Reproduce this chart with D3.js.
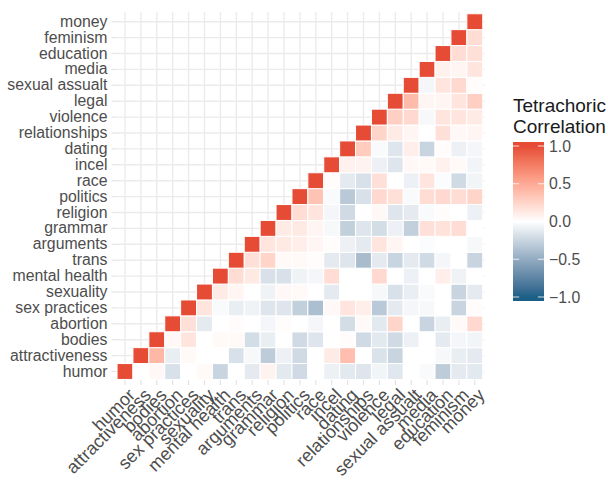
<!DOCTYPE html>
<html>
<head>
<meta charset="utf-8">
<script src="https://cdn.jsdelivr.net/npm/d3@7"></script>
<style>
  html, body { margin: 0; padding: 0; background: #fff; }
  svg { display: block; font-family: "Liberation Sans", Arial, Helvetica, sans-serif; }
</style>
</head>
<body>
<svg id="chart" width="608" height="484"></svg>
<script>
// Topics, bottom-to-top on the y axis and left-to-right on the x axis
const categories = ["humor", "attractiveness", "bodies", "abortion", "sex practices", "sexuality",
  "mental health", "trans", "arguments", "grammar", "religion", "politics", "race", "incel",
  "dating", "relationships", "violence", "legal", "sexual assualt", "media", "education",
  "feminism", "money"];

// Tetrachoric correlation of each topic with every topic listed after it
const humorRow = [0.00, 0.04, -0.18, 0.00, 0.03, -0.25, 0.00, -0.12, 0.07, -0.13, -0.22, 0.00, -0.08, -0.13, -0.15, -0.06, -0.14, 0.00, -0.03, -0.30, -0.12, -0.13];
const attractivenessRow = [0.42, -0.10, 0.03, 0.00, 0.00, -0.18, -0.04, -0.30, -0.08, -0.22, 0.00, 0.12, 0.38, 0.00, -0.17, -0.25, 0.00, 0.00, -0.04, -0.10, -0.12];
const bodiesRow = [0.04, 0.15, 0.00, 0.03, 0.03, -0.20, -0.10, 0.00, -0.22, -0.15, 0.00, 0.02, -0.22, -0.13, -0.22, -0.08, 0.00, -0.12, -0.05, -0.06];
const abortionRow = [0.18, -0.12, 0.00, 0.02, 0.00, -0.05, 0.02, 0.00, -0.05, 0.00, -0.20, 0.03, -0.13, 0.25, 0.00, -0.25, -0.10, 0.03, 0.22];
const sexPracticesRow = [0.15, -0.03, -0.10, -0.07, -0.15, -0.15, -0.28, -0.38, 0.04, 0.15, 0.10, -0.32, -0.12, -0.05, -0.04, 0.00, -0.25, 0.02];
const sexualityRow = [0.12, 0.05, 0.00, -0.07, 0.04, 0.03, 0.00, -0.12, 0.00, 0.00, -0.04, -0.18, -0.10, -0.03, 0.00, -0.25, -0.12];
const mentalHealthRow = [0.20, 0.13, -0.18, -0.18, -0.07, -0.05, 0.20, 0.00, 0.00, 0.22, 0.00, -0.08, 0.00, 0.10, -0.07, 0.00];
const transRow = [0.18, 0.25, 0.03, 0.03, 0.02, -0.12, -0.15, -0.40, -0.12, -0.25, -0.12, -0.22, -0.05, 0.00, -0.25];
const argumentsRow = [0.15, 0.13, 0.10, 0.05, 0.02, -0.08, -0.12, 0.15, 0.05, 0.00, -0.02, 0.00, 0.00, -0.04];
const grammarRow = [0.12, 0.13, 0.06, -0.04, -0.28, -0.15, -0.20, -0.08, -0.28, 0.18, 0.17, 0.20, 0.00];
const religionRow = [0.20, 0.15, -0.05, -0.22, 0.00, 0.04, -0.15, -0.12, -0.03, 0.02, 0.00, -0.08];
const politicsRow = [0.35, -0.03, -0.32, -0.18, 0.22, 0.18, -0.03, 0.20, 0.22, 0.20, 0.25];
const raceRow = [0.02, -0.12, -0.18, 0.18, 0.00, -0.08, 0.15, -0.02, -0.22, -0.06];
const incelRow = [0.08, 0.07, -0.08, -0.15, 0.04, 0.03, 0.08, 0.03, -0.06];
const datingRow = [0.30, -0.03, -0.15, 0.10, -0.25, 0.02, -0.08, -0.05];
const relationshipsRow = [0.25, 0.12, 0.05, 0.00, 0.18, 0.04, 0.05];
const violenceRow = [0.28, 0.22, -0.04, 0.15, 0.15, 0.12];
const legalRow = [0.40, 0.05, 0.06, 0.15, 0.28];
const sexualAssaultRow = [-0.05, 0.15, 0.22, 0.02];
const mediaRow = [0.08, 0.05, 0.15];
const educationRow = [0.20, 0.18];
const feminismRow = [0.20];
const moneyRow = [];

const legendTicks = [1.0, 0.5, 0.0, -0.5, -1.0];

const rows = [humorRow, attractivenessRow, bodiesRow, abortionRow, sexPracticesRow, sexualityRow,
  mentalHealthRow, transRow, argumentsRow, grammarRow, religionRow, politicsRow, raceRow, incelRow,
  datingRow, relationshipsRow, violenceRow, legalRow, sexualAssaultRow, mediaRow, educationRow,
  feminismRow, moneyRow];

// Long-format cells: diagonal plus the pairs above it
const cells = [];
rows.forEach((vals, j) => {
  cells.push({ x: categories[j], y: categories[j], value: 1 });
  vals.forEach((v, k) => cells.push({ x: categories[j + 1 + k], y: categories[j], value: v }));
});

const svg = d3.select("#chart");

// Panel geometry
const tileLeft = 117.05, tileRight = 482.75, tileTop = 13.75, tileBottom = 379.45;
const step = (tileRight - tileLeft) / categories.length;
const panel = {
  left: tileLeft - 0.1 * step, right: tileRight + 0.1 * step,
  top: tileTop - 0.1 * step, bottom: tileBottom + 0.1 * step
};

const x = d3.scaleBand().domain(categories).range([tileLeft, tileRight]).padding(0);
const y = d3.scaleBand().domain(categories.slice().reverse()).range([tileTop, tileBottom]).padding(0);

// Diverging fill: blue - white - red, interpolated in Lab space
const lowCol = "#1B5F87", midCol = "#FFFFFF", highCol = "#E64B35";
const fill = d3.scaleDiverging()
  .domain([-1, 0, 1])
  .interpolator(t => t < 0.5 ? d3.interpolateLab(lowCol, midCol)(t * 2) : d3.interpolateLab(midCol, highCol)((t - 0.5) * 2));

// Grid lines
const grid = svg.append("g");
categories.forEach(c => {
  const cx = x(c) + x.bandwidth() / 2;
  const cy = y(c) + y.bandwidth() / 2;
  grid.append("line").attr("x1", cx).attr("x2", cx).attr("y1", panel.top).attr("y2", panel.bottom)
    .attr("stroke", "#ebebeb").attr("stroke-width", 1.4);
  grid.append("line").attr("y1", cy).attr("y2", cy).attr("x1", panel.left).attr("x2", panel.right)
    .attr("stroke", "#ebebeb").attr("stroke-width", 1.4);
});

// Tiles
svg.append("g").selectAll("rect").data(cells).join("rect")
  .attr("x", d => x(d.x))
  .attr("y", d => y(d.y))
  .attr("width", x.bandwidth())
  .attr("height", y.bandwidth())
  .attr("fill", d => fill(d.value))
  .attr("stroke", "#fff")
  .attr("stroke-width", 1);

const labelSize = "15.8px", xLabelSize = "18px", labelCol = "#4d4d4d";

// Y axis
const yAxis = svg.append("g")
  .attr("transform", `translate(${panel.left},0)`)
  .call(d3.axisLeft(y).tickSize(4).tickPadding(4));
yAxis.select(".domain").remove();
yAxis.selectAll(".tick line").attr("stroke", "#e3e3e3").attr("stroke-width", 1.2);
yAxis.selectAll(".tick text").attr("font-size", labelSize).attr("fill", labelCol)
  .attr("font-family", "Liberation Sans, Arial, sans-serif");

// X axis with slanted labels
const xAxis = svg.append("g")
  .attr("transform", `translate(0,${panel.bottom})`)
  .call(d3.axisBottom(x).tickSize(4).tickPadding(4));
xAxis.select(".domain").remove();
xAxis.selectAll(".tick line").attr("stroke", "#e3e3e3").attr("stroke-width", 1.2);
xAxis.selectAll(".tick text")
  .attr("font-size", xLabelSize).attr("fill", labelCol)
  .attr("font-family", "Liberation Sans, Arial, sans-serif")
  .attr("x", 0).attr("y", 0).attr("dy", "0.72em")
  .attr("text-anchor", "end")
  .attr("transform", "translate(2,6) rotate(-45)");

// Legend
const leg = svg.append("g");
leg.append("text").attr("x", 513).attr("y", 112).attr("font-size", "19px").attr("fill", "#1a1a1a")
  .text("Tetrachoric");
leg.append("text").attr("x", 513).attr("y", 133).attr("font-size", "19px").attr("fill", "#1a1a1a")
  .text("Correlation");

const barX = 513, barW = 31, barTop = 142, barBottom = 301;
const ly = d3.scaleLinear().domain([1, -1]).range([146, 297]);

const grad = svg.append("defs").append("linearGradient")
  .attr("id", "corrGrad").attr("x1", 0).attr("x2", 0).attr("y1", 0).attr("y2", 1);
d3.range(0, 41).forEach(i => {
  const yy = barTop + (barBottom - barTop) * i / 40;
  const v = Math.max(-1, Math.min(1, ly.invert(yy)));
  grad.append("stop").attr("offset", `${i / 40 * 100}%`).attr("stop-color", fill(v));
});
leg.append("rect").attr("x", barX).attr("y", barTop).attr("width", barW).attr("height", barBottom - barTop)
  .attr("fill", "url(#corrGrad)");

legendTicks.forEach(t => {
  const ty = ly(t);
  leg.append("line").attr("x1", barX).attr("x2", barX + barW / 5).attr("y1", ty).attr("y2", ty)
    .attr("stroke", "#fff").attr("stroke-width", 1).attr("stroke-opacity", 0.8);
  leg.append("line").attr("x1", barX + barW - barW / 5).attr("x2", barX + barW).attr("y1", ty).attr("y2", ty)
    .attr("stroke", "#fff").attr("stroke-width", 1).attr("stroke-opacity", 0.8);
  leg.append("text").attr("x", barX + barW + 5).attr("y", ty).attr("dy", "0.36em")
    .attr("font-size", labelSize).attr("fill", labelCol)
    .text(d3.format(".1f")(t).replace("-", "\u2212"));
});
</script>
</body>
</html>
